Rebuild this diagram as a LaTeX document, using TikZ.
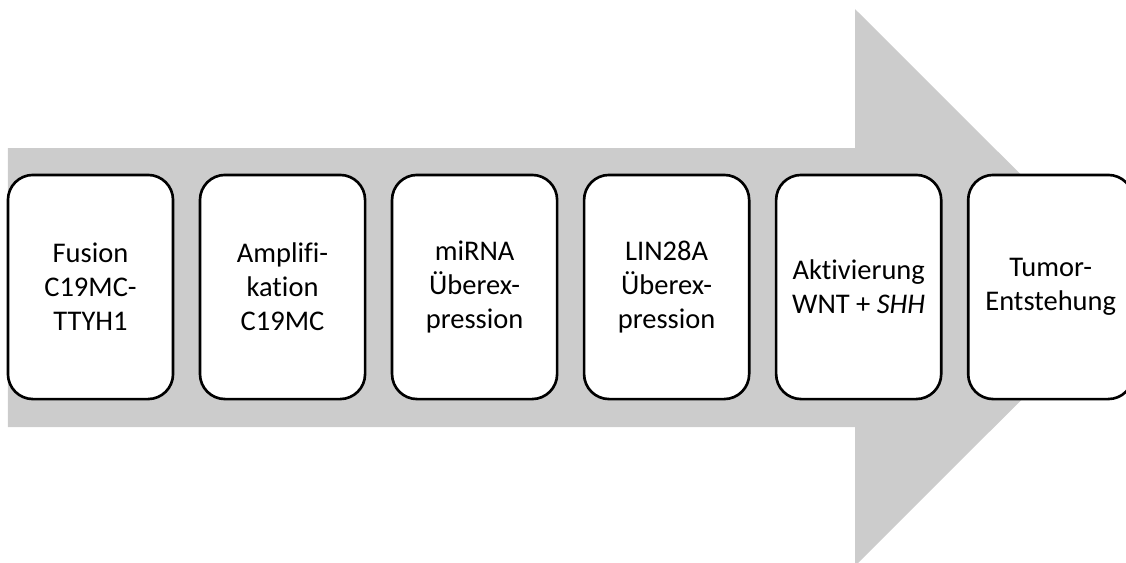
\documentclass[tikz,border=0pt]{standalone}
\usepackage{fontspec}
\setmainfont{Carlito}[Ligatures={NoCommon}]
\usetikzlibrary{positioning}
\definecolor{arrowgray}{RGB}{204,204,204}

\begin{document}
\begin{tikzpicture}[x=0.01cm,y=-0.01cm,
  stagebox/.style={draw=black,line width=.75pt,fill=white,rounded corners=0.25cm,
    minimum width=1.65cm,minimum height=2.24cm,align=center,inner sep=0pt,
    font=\fontsize{8.1}{9.7}\selectfont},
  node distance=0.243cm]
\clip (0,0) rectangle (1126,563);
\fill[arrowgray] (8,148) -- (855,148) -- (855,9) -- (1134,287.5) -- (855,566) -- (855,427) -- (8,427) -- cycle;
\node[stagebox] (fusion) at (90.5,287) {Fusion\\C19MC-\\TTYH1};
\node[stagebox,right=of fusion] (ampl) {Amplifi-\\kation\\C19MC};
\node[stagebox,right=of ampl] (mirna) {miRNA\\Überex-\\pression};
\node[stagebox,right=of mirna] (lin) {LIN28A\\Überex-\\pression};
\node[stagebox,right=of lin] (aktiv) {Aktivierung\\WNT + \textit{SHH}};
\node[stagebox,right=of aktiv] (tumor) {Tumor-\\Entstehung};
\end{tikzpicture}
\end{document}
